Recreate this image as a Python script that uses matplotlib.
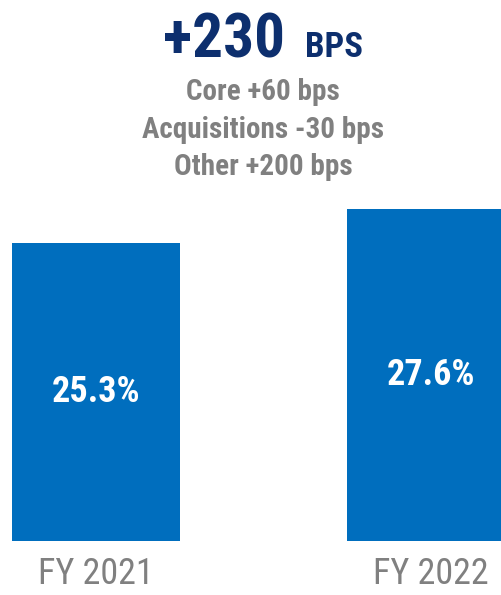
import matplotlib.pyplot as plt

plt.rcParams['font.family'] = ['Roboto Condensed', 'DejaVu Sans']

years = ['FY 2021', 'FY 2022']
margins = [25.3, 27.6]
headline = '+230'
headline_unit = 'BPS'
drivers = ['Core +60 bps', 'Acquisitions -30 bps', 'Other +200 bps']

bar_blue = '#006EBE'
navy = '#0D2F6E'
gray = '#808080'

W, H = 501, 595
fig = plt.figure(figsize=(W / 100, H / 100), dpi=100)
ax = fig.add_axes([0, 54 / H, 1, 541 / H])

x = [0, 1]
y0 = 5.14  # axis does not start at zero in the source slide
ax.bar(x, margins, width=0.5015, color=bar_blue)
ax.set_xlim(-0.2866, 1.209)
ax.set_ylim(y0, 41.74)

for xi, v in zip(x, margins):
    ax.text(xi, (y0 + v) / 2, f'{v}%', ha='center', va='center',
            color='white', fontsize=26, fontweight='bold')

ax.set_xticks(x)
ax.set_xticklabels(years, fontsize=26, color=gray)
ax.tick_params(axis='x', length=0, pad=11)
ax.set_yticks([])
for s in ax.spines.values():
    s.set_visible(False)

# headline
fig.text(163 / W, 1 - 57 / H, headline, fontsize=44, fontweight='bold',
         color=navy, ha='left', va='baseline')
fig.text(363 / W, 1 - 57 / H, headline_unit, fontsize=25, fontweight='bold',
         color=navy, ha='right', va='baseline')

for i, line in enumerate(drivers):
    fig.text(263 / W, 1 - (100 + 37.5 * i) / H, line, fontsize=21,
             fontweight='bold', color=gray, ha='center', va='baseline')

fig.savefig('out.png', dpi=100)
